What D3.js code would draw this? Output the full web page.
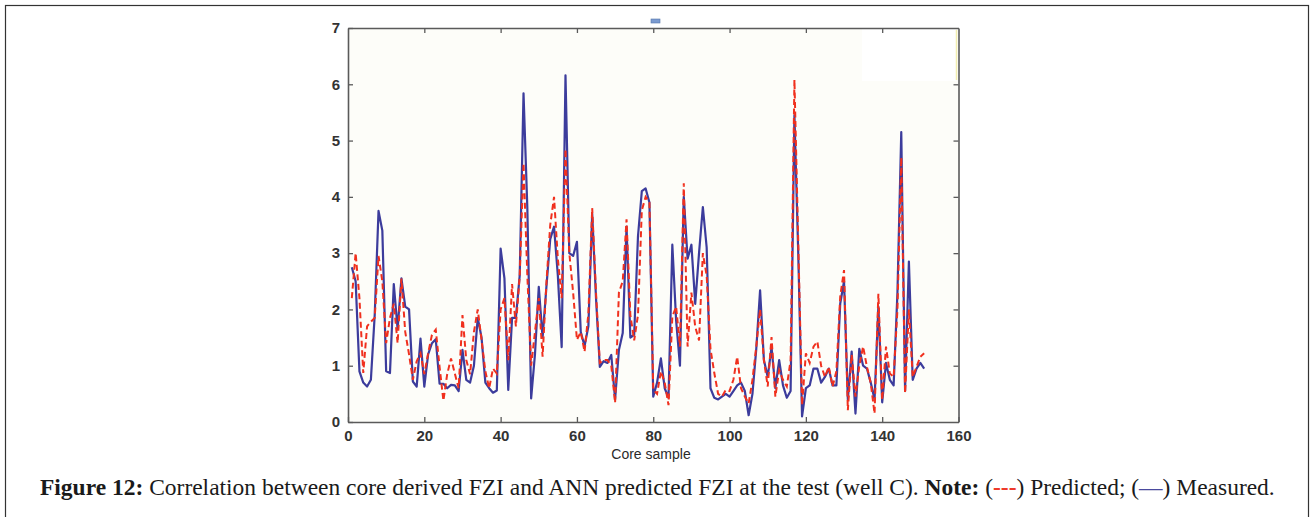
<!DOCTYPE html>
<html>
<head>
<meta charset="utf-8">
<script src="https://cdn.jsdelivr.net/npm/d3@7"></script>
<style>
  html, body { margin: 0; padding: 0; background: #ffffff; }
  svg { display: block; }
</style>
</head>
<body>
<svg id="chart" width="1315" height="517"></svg>
<script>
// ---------------- data ----------------
const samples = d3.range(1, 152); // core sample index 1..151

const measured = [
  2.75, 2.5, 0.9, 0.7, 0.63, 0.75, 1.9, 3.75, 3.4, 0.9,
  0.87, 2.45, 1.65, 2.55, 2.05, 2.0, 0.72, 0.63, 1.48, 0.63,
  1.2, 1.4, 1.47, 0.68, 0.68, 0.6, 0.66, 0.65, 0.55, 1.28,
  0.75, 0.7, 1.0, 1.85, 1.5, 0.7, 0.6, 0.52, 0.56, 3.08,
  2.55, 0.57, 1.85, 1.85, 2.6, 5.84, 3.8, 0.42, 1.2, 2.4,
  1.5, 2.4, 3.25, 3.47, 2.6, 1.33, 6.16, 3.0, 2.95, 3.2,
  1.6, 1.35, 1.7, 3.7, 2.2, 0.98, 1.08, 1.05, 1.19, 0.4,
  1.28, 1.58, 3.47, 1.5, 1.55, 3.3, 4.1, 4.15, 3.9, 0.45,
  0.7, 1.13, 0.6, 0.43, 3.15, 1.8, 1.0, 4.0, 2.9, 3.15,
  2.1, 3.0, 3.82, 3.1, 0.6, 0.43, 0.4, 0.45, 0.5, 0.45,
  0.55, 0.65, 0.7, 0.55, 0.12, 0.5, 1.3, 2.34, 1.1, 0.8,
  1.33, 0.6, 1.1, 0.65, 0.43, 0.55, 5.45, 3.0, 0.1, 0.6,
  0.65, 0.95, 0.95, 0.7, 0.8, 0.95, 0.65, 0.65, 2.1, 2.5,
  0.4, 1.25, 0.15, 1.3, 1.0, 0.95, 0.7, 0.4, 2.05, 0.35,
  1.05, 0.75, 0.65, 2.3, 5.15, 0.55, 2.85, 0.75, 0.95, 1.05,
  0.95
];

const predicted = [
  2.2, 3.0, 2.2, 0.87, 1.7, 1.78, 1.85, 2.95, 2.5, 1.4,
  1.85, 2.1, 1.4, 2.55, 1.6, 1.2, 0.75, 1.08, 1.22, 0.85,
  1.22, 1.55, 1.64, 0.98, 0.38, 0.85, 1.13, 0.86, 0.6, 1.9,
  1.1, 0.85, 1.6, 2.0, 1.46, 0.9, 0.6, 0.95, 0.86, 2.0,
  2.2, 1.1, 2.45, 1.7, 2.6, 4.6, 2.6, 1.0, 1.6, 2.2,
  1.16, 2.47, 3.5, 4.0, 2.9, 2.2, 4.85, 3.0, 2.3, 1.46,
  1.6, 1.25, 1.93, 3.8, 2.3, 1.05, 1.1, 1.1, 1.0, 0.34,
  2.3, 2.5, 3.6, 1.9, 1.45, 1.9, 3.76, 4.0, 3.9, 0.57,
  0.5, 0.9, 0.7, 0.3, 1.87, 2.05, 1.34, 4.24, 1.34, 2.3,
  1.69, 1.45, 3.0, 2.6, 1.3, 0.87, 0.5, 0.45, 0.57, 0.55,
  0.75, 1.16, 0.6, 0.45, 0.33, 0.75, 1.34, 2.0, 1.1, 0.63,
  1.51, 0.45, 0.92, 0.75, 0.63, 1.1, 6.08, 3.2, 0.3, 1.22,
  1.05, 1.34, 1.43, 1.0, 0.8, 0.98, 0.63, 0.9, 2.23, 2.7,
  0.21, 1.2, 0.45, 1.0, 1.34, 0.98, 0.69, 0.15, 2.28, 0.39,
  1.34, 0.86, 0.8, 2.0, 4.7, 0.51, 2.0, 0.8, 0.98, 1.16,
  1.22
];

const xTicks = [0, 20, 40, 60, 80, 100, 120, 140, 160];
const yTicks = [0, 1, 2, 3, 4, 5, 6, 7];
const xLabel = "Core sample";

// ---------------- drawing ----------------
const svg = d3.select("#chart");

// outer figure frame
svg.append("rect")
  .attr("x", 5.5).attr("y", 5.5)
  .attr("width", 1303).attr("height", 530)
  .attr("fill", "#ffffff")
  .attr("stroke", "#333333").attr("stroke-width", 1.2);

const x = d3.scaleLinear().domain([0, 160]).range([348, 958.5]);
const y = d3.scaleLinear().domain([0, 7]).range([422, 28]);

// plot background
svg.append("rect")
  .attr("x", x(0)).attr("y", y(7))
  .attr("width", x(160) - x(0)).attr("height", y(0) - y(7))
  .attr("fill", "#fdfdf9");

// erased legend patch (top right)
svg.append("rect")
  .attr("x", 862).attr("y", 29).attr("width", 94).attr("height", 52)
  .attr("fill", "#ffffff");
svg.append("line")
  .attr("x1", 956.5).attr("x2", 956.5).attr("y1", 30).attr("y2", 80)
  .attr("stroke", "#f2eeb0").attr("stroke-width", 1.5);

// small legend remnant above the plot
svg.append("rect")
  .attr("x", 651).attr("y", 19).attr("width", 9).attr("height", 4)
  .attr("fill", "#7b9bd0").attr("stroke", "#5577aa").attr("stroke-width", 0.6);

const axisColor = "#5a5a5a";
const labelFont = "'Liberation Sans', Arial, sans-serif";

function styleAxis(g, showLabels) {
  g.select(".domain").attr("stroke", axisColor).attr("stroke-width", 1.6);
  g.selectAll(".tick line").attr("stroke", axisColor).attr("stroke-width", 1.3);
  g.selectAll(".tick text")
    .attr("fill", "#333333")
    .style("font-family", labelFont)
    .style("font-size", "15px")
    .style("font-weight", "bold")
    .style("display", showLabels ? null : "none");
}

// bottom axis
const gx = svg.append("g").attr("transform", `translate(0,${y(0)})`)
  .call(d3.axisBottom(x).tickValues(xTicks).tickFormat(d3.format("d"))
    .tickSizeInner(-5).tickSizeOuter(0).tickPadding(9));
styleAxis(gx, true);
gx.selectAll(".tick text").attr("dy", "0.68em");

// top axis
const gxt = svg.append("g").attr("transform", `translate(0,${y(7)})`)
  .call(d3.axisTop(x).tickValues(xTicks.slice(1, -1)).tickSizeInner(-5).tickSizeOuter(0));
styleAxis(gxt, false);

// left axis
const gy = svg.append("g").attr("transform", `translate(${x(0)},0)`)
  .call(d3.axisLeft(y).tickValues(yTicks).tickFormat(d3.format("d"))
    .tickSizeInner(-5).tickSizeOuter(0).tickPadding(8));
styleAxis(gy, true);

// right axis
const gyr = svg.append("g").attr("transform", `translate(${x(160)},0)`)
  .call(d3.axisRight(y).tickValues(yTicks.slice(1, -1)).tickSizeInner(-5).tickSizeOuter(0));
styleAxis(gyr, false);

// x label
svg.append("text")
  .attr("x", 651).attr("y", 459)
  .attr("text-anchor", "middle")
  .attr("fill", "#2a2a2a")
  .style("font-family", labelFont)
  .style("font-size", "14px")
  .text(xLabel);

// lines
const measuredPts = samples.map((s, i) => [s, measured[i]]);
const predictedPts = samples.map((s, i) => [s, predicted[i]]);
const line = d3.line().x(d => x(d[0])).y(d => y(d[1]));

svg.append("path")
  .datum(measuredPts)
  .attr("fill", "none")
  .attr("stroke", "#3c3c9c")
  .attr("stroke-width", 2.2)
  .attr("stroke-linejoin", "round")
  .attr("d", line);

svg.append("path")
  .datum(predictedPts)
  .attr("fill", "none")
  .attr("stroke", "#f0301e")
  .attr("stroke-width", 2)
  .attr("stroke-dasharray", "6,3.5")
  .attr("d", line);

// caption
const cap = svg.append("text")
  .attr("x", 40).attr("y", 495)
  .attr("fill", "#1a1a1a")
  .style("font-family", "'Liberation Serif', 'DejaVu Serif', serif")
  .style("font-size", "18px");
cap.append("tspan").style("font-weight", "bold").text("Figure 12:");
cap.append("tspan").text(" Correlation between core derived FZI and ANN predicted FZI at the test (well C). ");
cap.append("tspan").style("font-weight", "bold").text("Note:");
cap.append("tspan").text(" (");
cap.append("tspan").attr("fill", "#ee3a2a").style("font-weight", "bold").text("---");
cap.append("tspan").text(") Predicted; (");
cap.append("tspan").attr("fill", "#4a4a9e").text("—");
cap.append("tspan").text(") Measured.");

const targetW = 1235;
const w = cap.node().getComputedTextLength();
if (w > 0) cap.style("font-size", (18 * targetW / w).toFixed(2) + "px");
</script>
</body>
</html>
